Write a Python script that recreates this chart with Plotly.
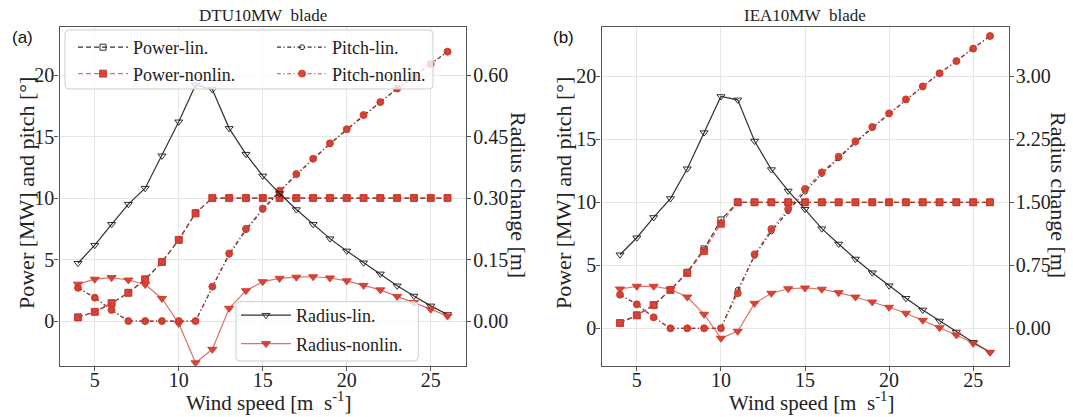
import plotly.graph_objects as go

# ---- data -------------------------------------------------------------
wind_speed = [4, 5, 6, 7, 8, 9, 10, 11, 12, 13, 14, 15, 16, 17, 18, 19, 20, 21, 22, 23, 24, 25, 26]

# DTU10MW blade
dtu_power_lin = [0.3, 0.75, 1.45, 2.3, 3.35, 4.8, 6.6, 8.8, 10.0, 10.0, 10.0, 10.0, 10.0, 10.0, 10.0, 10.0, 10.0, 10.0, 10.0, 10.0, 10.0, 10.0, 10.0]
dtu_power_nonlin = [0.3, 0.75, 1.45, 2.3, 3.4, 4.8, 6.6, 8.75, 10.0, 10.0, 10.0, 10.0, 10.0, 10.0, 10.0, 10.0, 10.0, 10.0, 10.0, 10.0, 10.0, 10.0, 10.0]
dtu_pitch_lin = [2.7, 1.9, 0.9, 0.0, 0.0, 0.0, 0.0, 0.0, 2.75, 5.4, 7.4, 9.05, 10.5, 11.9, 13.15, 14.4, 15.55, 16.7, 17.8, 18.9, 19.9, 20.9, 21.9]
dtu_pitch_nonlin = [2.7, 1.9, 0.9, 0.0, 0.0, 0.0, 0.0, 0.0, 2.8, 5.5, 7.5, 9.15, 10.6, 11.95, 13.2, 14.45, 15.6, 16.75, 17.8, 18.9, 19.9, 20.9, 21.9]
dtu_radius_lin = [0.141, 0.185, 0.236, 0.285, 0.324, 0.403, 0.486, 0.576, 0.565, 0.470, 0.407, 0.354, 0.311, 0.272, 0.236, 0.201, 0.171, 0.142, 0.115, 0.086, 0.061, 0.037, 0.016]
dtu_radius_nonlin = [0.090, 0.102, 0.106, 0.100, 0.089, 0.055, -0.006, -0.102, -0.069, 0.031, 0.074, 0.096, 0.104, 0.107, 0.108, 0.105, 0.098, 0.087, 0.076, 0.060, 0.045, 0.029, 0.012]

# IEA10MW blade
iea_power_lin = [0.42, 1.03, 1.85, 3.04, 4.45, 6.3, 8.6, 10.0, 10.0, 10.0, 10.0, 10.0, 10.0, 10.0, 10.0, 10.0, 10.0, 10.0, 10.0, 10.0, 10.0, 10.0, 10.0]
iea_power_nonlin = [0.42, 1.03, 1.85, 3.04, 4.39, 6.13, 8.3, 10.0, 10.0, 10.0, 10.0, 10.0, 10.0, 10.0, 10.0, 10.0, 10.0, 10.0, 10.0, 10.0, 10.0, 10.0, 10.0]
iea_pitch_lin = [2.67, 1.9, 0.87, 0.0, 0.0, 0.0, 0.0, 3.05, 5.75, 7.7, 9.3, 10.85, 12.25, 13.5, 14.75, 15.9, 17.0, 18.15, 19.2, 20.24, 21.21, 22.2, 23.2]
iea_pitch_nonlin = [2.67, 1.9, 0.87, 0.0, 0.0, 0.0, 0.0, 2.78, 5.87, 7.88, 9.47, 11.06, 12.38, 13.62, 14.84, 15.98, 17.06, 18.17, 19.2, 20.24, 21.21, 22.2, 23.2]
iea_radius_lin = [0.876, 1.078, 1.32, 1.545, 1.90, 2.33, 2.76, 2.72, 2.23, 1.89, 1.635, 1.417, 1.186, 1.004, 0.825, 0.662, 0.507, 0.357, 0.218, 0.087, -0.044, -0.167, -0.286]
iea_radius_nonlin = [0.468, 0.50, 0.50, 0.465, 0.372, 0.167, -0.119, -0.036, 0.297, 0.417, 0.471, 0.48, 0.465, 0.424, 0.372, 0.313, 0.25, 0.179, 0.095, 0.007, -0.08, -0.179, -0.286]

x_ticks = [5, 10, 15, 20, 25]
left_ticks = [0, 5, 10, 15, 20]
dtu_radius_ticks = [0.0, 0.15, 0.30, 0.45, 0.60]
iea_radius_ticks = [0.0, 0.75, 1.50, 2.25, 3.00]

panel_titles = ["DTU10MW\u00a0\u00a0blade", "IEA10MW\u00a0\u00a0blade"]
panel_tags = ["(a)", "(b)"]

# ---- styling ----------------------------------------------------------
W, H = 1073, 417
SERIF = "Liberation Serif, Times New Roman, serif"
TXT = "#222222"
FRAME = "#555555"
GRID = "#e6e6e6"
BLACK = "rgba(25,25,25,0.9)"
RED_LINE = "rgba(210,57,45,0.72)"
RED_MARK = "rgba(210,57,45,0.92)"
DASH = "5px,3px"
DASHDOT = "4px,2.5px,1.2px,2.5px"

# panel frames in pixels: (left, right)
FRAME_A = (59.5, 466.0)
FRAME_B = (601.5, 1008.5)
FRAME_TOP, FRAME_BOTTOM = 26.7, 365.7


def px_x(p):
    return p / W


def px_y(p):
    return 1 - p / H


fig = go.Figure()


def add_panel(xa, ya, ya2, power_lin, power_nonlin, pitch_lin, pitch_nonlin,
              radius_lin, radius_nonlin, show):
    specs = [
        ("Power-lin.", power_lin, ya, BLACK, DASH, "square-open", 6, BLACK, "legend", None),
        ("Power-nonlin.", power_nonlin, ya, RED_LINE, DASH, "square", 7, RED_MARK, "legend", None),
        ("Pitch-lin.", pitch_lin, ya, BLACK, DASHDOT, "circle-open", 5, BLACK, "legend3", None),
        ("Pitch-nonlin.", pitch_nonlin, ya, RED_LINE, DASHDOT, "circle", 7, RED_MARK, "legend3", None),
        ("Radius-lin.", radius_lin, ya2, BLACK, "solid", "triangle-down-open", 7, BLACK, "legend2", "r1"),
        ("Radius-nonlin.", radius_nonlin, ya2, RED_LINE, "solid", "triangle-down", 8, RED_MARK, "legend2", "r2"),
    ]
    for name, vals, yax, lc, dash, sym, size, mc, leg, grp in specs:
        fig.add_trace(go.Scatter(
            x=wind_speed, y=vals, name=name, mode="lines+markers",
            xaxis=xa, yaxis=yax,
            line=dict(color=lc, width=1.2, dash=dash),
            marker=dict(symbol=sym, size=size, color=mc,
                        line=dict(color=mc, width=1)),
            showlegend=show, legend=leg, legendgroup=grp,
        ))


add_panel("x", "y", "y2", dtu_power_lin, dtu_power_nonlin, dtu_pitch_lin,
          dtu_pitch_nonlin, dtu_radius_lin, dtu_radius_nonlin, True)
add_panel("x2", "y3", "y4", iea_power_lin, iea_power_nonlin, iea_pitch_lin,
          iea_pitch_nonlin, iea_radius_lin, iea_radius_nonlin, False)

tick_font = dict(family=SERIF, size=20, color=TXT)
y_domain = [px_y(FRAME_BOTTOM), px_y(FRAME_TOP)]


def x_axis(frame, anchor):
    return dict(domain=[px_x(frame[0]), px_x(frame[1])], anchor=anchor,
                range=[2.9, 27.1], tickvals=x_ticks, ticks="outside",
                ticklen=4, tickwidth=1, tickcolor=FRAME, showline=True,
                linecolor=FRAME, linewidth=1.3, mirror=True, showgrid=True,
                gridcolor=GRID, gridwidth=1, zeroline=False, tickfont=tick_font,
                ticklabelstandoff=-8)


def y_axis(anchor, rng, ticks):
    return dict(domain=y_domain, anchor=anchor, range=rng, tickvals=ticks,
                ticks="outside", ticklen=4, tickwidth=1, tickcolor=FRAME,
                showline=True, linecolor=FRAME, linewidth=1.3,
                showgrid=True, gridcolor=GRID, gridwidth=1,
                zeroline=False, tickfont=tick_font, ticklabelstandoff=-4)


def y_axis_right(anchor, over, rng, ticks):
    return dict(anchor=anchor, overlaying=over, side="right", range=rng,
                tickvals=ticks, tickformat=".2f", ticks="outside", ticklen=4,
                tickwidth=1, tickcolor=FRAME, showline=True, linecolor=FRAME,
                linewidth=1.3, showgrid=False, zeroline=False,
                tickfont=tick_font, ticklabelstandoff=-2)


legend_common = dict(
    orientation="v", xanchor="left", yanchor="top",
    bgcolor="rgba(0,0,0,0)", borderwidth=0, itemwidth=50,
    font=dict(family=SERIF, size=18, color=TXT), tracegroupgap=0,
)


def rounded_box(x0, y0, x1, y1, r=4):
    ax0, ax1 = px_x(x0), px_x(x1)
    ay0, ay1 = px_y(y1), px_y(y0)
    rx, ry = r / W, r / H
    path = (f"M{ax0 + rx},{ay0} L{ax1 - rx},{ay0} Q{ax1},{ay0} {ax1},{ay0 + ry} "
            f"L{ax1},{ay1 - ry} Q{ax1},{ay1} {ax1 - rx},{ay1} "
            f"L{ax0 + rx},{ay1} Q{ax0},{ay1} {ax0},{ay1 - ry} "
            f"L{ax0},{ay0 + ry} Q{ax0},{ay0} {ax0 + rx},{ay0} Z")
    return dict(type="path", xref="paper", yref="paper", path=path,
                fillcolor="rgba(255,255,255,0.8)",
                line=dict(color="rgba(205,205,205,1)", width=1), layer="above")


annotations = []
placements = [
    # panel frame, tag x, left title x, right title x
    (FRAME_A, 10, 26, 519),
    (FRAME_B, 551, 563, 1059),
]
for i, (frame, tx, ylx, yrx) in enumerate(placements):
    cx = (frame[0] + frame[1]) / 2
    annotations += [
        dict(text=panel_titles[i], x=px_x(cx), y=px_y(15), xref="paper", yref="paper",
             showarrow=False, xanchor="center", yanchor="middle",
             font=dict(family=SERIF, size=17, color=TXT)),
        dict(text=panel_tags[i], x=px_x(tx), y=px_y(37), xref="paper", yref="paper",
             showarrow=False, xanchor="left", yanchor="middle",
             font=dict(family="Liberation Sans", size=17, color="#111111")),
        dict(text="Power [MW] and pitch [°]", x=px_x(ylx), y=px_y(193),
             xref="paper", yref="paper", showarrow=False, textangle=-90,
             xanchor="center", yanchor="middle",
             font=dict(family=SERIF, size=22, color=TXT)),
        dict(text="Radius change [m]", x=px_x(yrx), y=px_y(195),
             xref="paper", yref="paper", showarrow=False, textangle=90,
             xanchor="center", yanchor="middle",
             font=dict(family=SERIF, size=22, color=TXT)),
        dict(text="Wind speed [m\u00a0\u00a0s<sup>-1</sup>]", x=px_x(cx + 6), y=0,
             xref="paper", yref="paper", showarrow=False,
             xanchor="center", yanchor="bottom",
             font=dict(family=SERIF, size=21, color=TXT)),
    ]

fig.update_layout(
    width=W, height=H, margin=dict(l=0, r=0, t=0, b=0),
    paper_bgcolor="white", plot_bgcolor="white",
    xaxis=x_axis(FRAME_A, "y"),
    yaxis=y_axis("x", [-3.63, 23.93], left_ticks),
    yaxis2=y_axis_right("x", "y", [-0.109, 0.718], dtu_radius_ticks),
    xaxis2=x_axis(FRAME_B, "y3"),
    yaxis3=y_axis("x2", [-2.97, 23.94], left_ticks),
    yaxis4=y_axis_right("x2", "y3", [-0.4455, 3.591], iea_radius_ticks),
    legend=dict(legend_common, x=px_x(73), y=px_y(29)),
    legend3=dict(legend_common, x=px_x(272), y=px_y(29)),
    legend2=dict(legend_common, x=px_x(236), y=px_y(297), tracegroupgap=2),
    shapes=[rounded_box(65, 30, 433, 89), rounded_box(236, 301.7, 418.3, 361)],
    annotations=annotations,
    showlegend=True,
)

fig.write_html("out.html")
